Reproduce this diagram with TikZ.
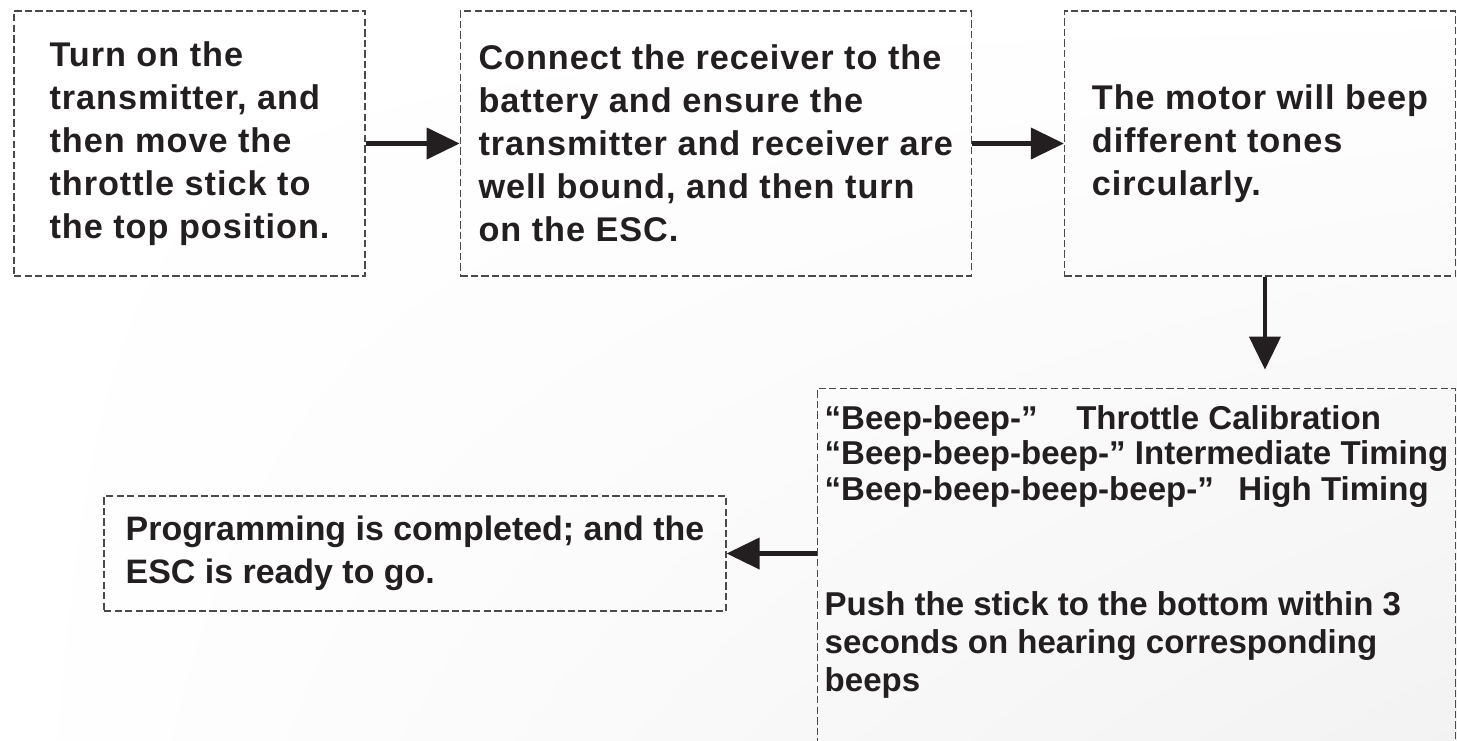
\documentclass[tikz,border=0pt]{standalone}
\usepackage{fontspec}
\setmainfont{Liberation Sans}
\newfontfamily\wideFont{Liberation Sans}[LetterSpace=2.8]
\usepackage{tikz}
\usetikzlibrary{arrows.meta, positioning, shadings}

\definecolor{inkDark}{HTML}{231F20}
\definecolor{dashGray}{HTML}{4A4A4A}

\begin{document}
\begin{tikzpicture}[
        stepBox/.style={
          rectangle,
          draw=dashGray,
          line width=0.7pt,
          dash pattern=on 4.2pt off 1.8pt,
          align=left,
          text=inkDark,
          font=\wideFont\bfseries\fontsize{19.5}{24.4}\selectfont
        },
        topBox/.style={
          stepBox,
          minimum height=5.3cm
        },
        lowFont/.style={font=\bfseries\fontsize{18.8}{20.3}\selectfont},
        line/.style={-{Triangle[length=0.66cm, width=0.62cm]}, line width=2.3pt, draw=inkDark}
    ]

    % Page and background
    \clip (0,0) rectangle (29.14,-14.8);
    \shade[upper left=white, upper right=white, lower left=white, lower right=black!5]
      (0,0) rectangle (29.14,-14.8);

    % Define the nodes
    \node[topBox, minimum width=7.02cm] (turnOn) at (3.79,-2.87)
      {Turn on the\\ transmitter, and\\ then move the\\ throttle stick to\\ the top position.};
    \node[topBox, minimum width=10.22cm, right=1.88cm of turnOn] (connectRx)
      {Connect the receiver to the\\ battery and ensure the\\ transmitter and receiver are\\ well bound, and then turn\\ on the ESC.};
    \node[topBox, minimum width=7.82cm, right=1.84cm of connectRx] (motorBeep)
      {The motor will beep\\ different tones\\ circularly.};
    \node[stepBox, lowFont, minimum width=12.76cm, inner ysep=0.34cm,
          below=2.22cm of motorBeep.south east, anchor=north east] (beepOptions)
      {“Beep-beep-”\hspace{22pt}Throttle Calibration\\
       “Beep-beep-beep-” Intermediate Timing\\
       “Beep-beep-beep-beep-”\hspace{14pt}High Timing\\[45pt]
       Push the stick to the bottom within 3\\[1.4pt]
       seconds on hearing corresponding\\[1.4pt]
       beeps\\ \rule{0pt}{1.6cm}};
    \node[stepBox, font=\bfseries\fontsize{19.3}{24.4}\selectfont,
          minimum width=12.44cm, minimum height=2.3cm] (progDone) at (8.30,-11.07)
      {Programming is completed; and the\\ ESC is ready to go.};

    % Connect the nodes
    \draw[line] (turnOn) -- (connectRx);
    \draw[line] (connectRx) -- (motorBeep);
    \draw[line, shorten >=0.36cm] ([xshift=0.1cm]motorBeep.south) -- ([xshift=0.1cm]motorBeep.south |- beepOptions.north);
    \draw[line] (beepOptions.west |- progDone.east) -- (progDone.east);

    \end{tikzpicture}
\end{document}
